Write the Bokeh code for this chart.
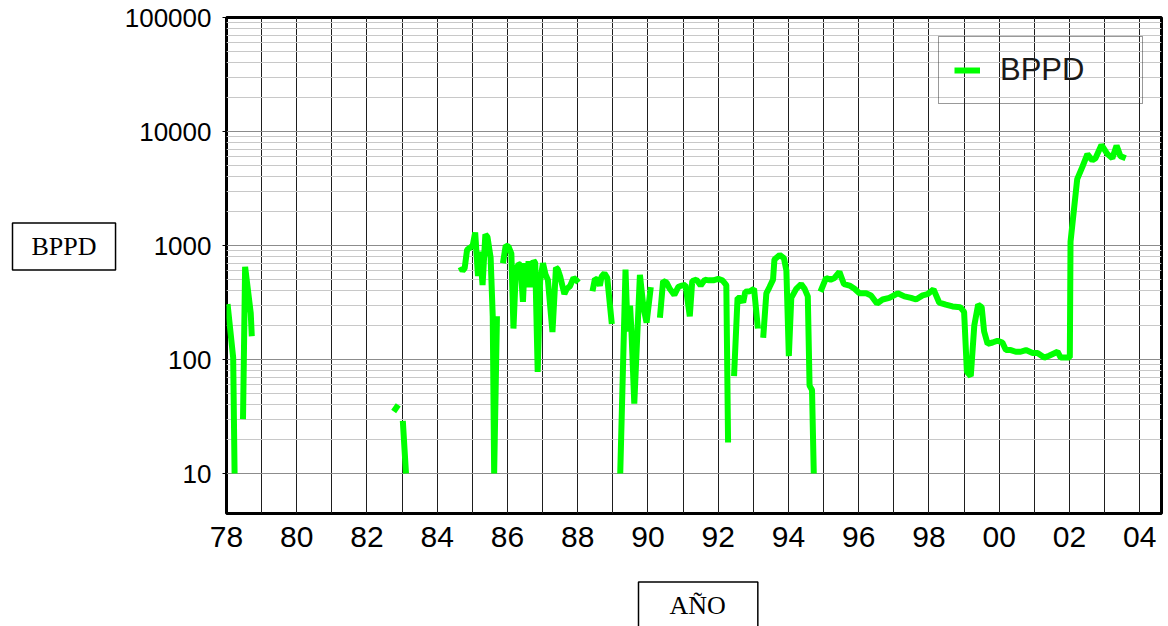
from bokeh.plotting import figure
from bokeh.layouts import row, column
from bokeh.models import (Range1d, FixedTicker, SingleIntervalTicker,
                          CustomJSTickFormatter, Legend, LegendItem, Label)
from bokeh.embed import file_html
from bokeh.resources import INLINE

nan = float("nan")

# ---- data (year as decimal, BPPD); nan = gap in the record ----
year = [
    1978.03, 1978.19, 1978.23, nan,
    1978.47, 1978.53, 1978.69, 1978.72, nan,
    1982.76, 1982.89, nan,
    1983.02, 1983.11, nan,
    1984.66, 1984.72, 1984.78, 1984.85, 1984.94, 1985.01, 1985.08, 1985.16,
    1985.22, 1985.29, 1985.37, 1985.43, 1985.52, 1985.58, 1985.62, 1985.70, nan,
    1985.87, 1985.95, 1986.03, 1986.11, 1986.17, 1986.24, 1986.32, 1986.37,
    1986.44, 1986.49, 1986.55, 1986.60, 1986.67, 1986.74, 1986.79, 1986.86,
    1986.93, 1987.01, 1987.08, 1987.15, 1987.28, 1987.38, 1987.43, 1987.50,
    1987.62, 1987.69, 1987.78, 1987.88, 1987.95, 1988.02, nan,
    1988.42, 1988.49, 1988.57, 1988.63, 1988.68, 1988.76, 1988.84, 1988.97, nan,
    1989.21, 1989.36, 1989.42, 1989.49, 1989.53, 1989.61, 1989.77, 1989.87,
    1989.96, 1990.08, nan,
    1990.34, 1990.43, 1990.53, 1990.62, 1990.75, 1990.86, 1990.95, 1991.07,
    1991.19, 1991.26, 1991.38, 1991.50, 1991.62, 1991.73, 1991.86, 1992.00,
    1992.12, 1992.23, 1992.28, nan,
    1992.45, 1992.55, 1992.64, 1992.71, 1992.77, 1992.90, 1993.02, 1993.13, nan,
    1993.28, 1993.37, 1993.46, 1993.56, 1993.60, 1993.75, 1993.87, 1993.94,
    1994.01, 1994.08, 1994.22, 1994.36, 1994.46, 1994.55, 1994.60, 1994.67,
    1994.72, nan,
    1994.91, 1995.07, 1995.20, 1995.31, 1995.45, 1995.58, 1995.74, 1995.88,
    1996.02, 1996.21, 1996.35, 1996.52, 1996.68, 1996.87, 1997.11, 1997.30,
    1997.49, 1997.63, 1997.82, 1997.96, 1998.13, 1998.29, 1998.48, 1998.67,
    1998.89, 1999.00, 1999.08, 1999.19, 1999.29, 1999.40, 1999.50, 1999.57,
    1999.67, 1999.81, 1999.95, 2000.09, 2000.19, 2000.33, 2000.47, 2000.61,
    2000.76, 2000.95, 2001.09, 2001.28, 2001.42, 2001.66, 2001.75, 2002.01,
    2002.03, 2002.22, 2002.37, 2002.51, 2002.65, 2002.74, 2002.91, 2003.08,
    2003.22, 2003.34, 2003.45, 2003.60,
]
bppd = [
    306, 104, 10, nan,
    30, 650, 255, 160, nan,
    35, 40, nan,
    29, 10, nan,
    650, 600, 630, 920, 960, 1000, 1300, 540,
    880, 450, 1250, 1190, 780, 240, 10, 240, nan,
    700, 1000, 980, 850, 187, 625, 685, 680,
    320, 700, 430, 730, 430, 740, 700, 78,
    490, 700, 560, 500, 174, 640, 620, 535,
    375, 417, 440, 520, 500, 473, nan,
    397, 510, 500, 445, 535, 570, 520, 205, nan,
    10, 614, 176, 297, 176, 41, 552, 288,
    211, 432, nan,
    232, 488, 473, 417, 369, 432, 445, 450,
    239, 488, 502, 445, 502, 495, 495, 509,
    495, 450, 18.7, nan,
    71.5, 347, 347, 316, 393, 397, 417, 187, nan,
    155, 381, 432, 502, 753, 826, 776, 606,
    107, 347, 417, 458, 417, 358, 59, 54,
    10, nan,
    393, 519, 502, 519, 587, 458, 445, 417,
    381, 381, 365, 310, 336, 347, 381, 358,
    347, 336, 365, 374, 412, 316, 303, 292,
    288, 262, 78, 71.5, 199, 303, 288, 176,
    137, 141, 146, 141, 121, 121, 117, 117,
    121, 114, 114, 104, 108, 117, 104, 104,
    1080, 3820, 4920, 6340, 5580, 5830, 7620, 6340,
    5830, 7520, 6080, 5830,
]
y_ticks = [10, 100, 1000, 10000, 100000]
y_minor = [m * 10 ** e for e in range(1, 5) for m in range(2, 10)]
series_name = "BPPD"
y_title = "BPPD"
x_title = "AÑO"

SANS = "Liberation Sans"
SERIF = "Liberation Serif"

LEFT_W = 121
MAIN_W = 1043
MAIN_H = 573
BOTTOM_H = 53

# ---------------- main chart ----------------
p = figure(width=MAIN_W, height=MAIN_H,
           x_range=Range1d(1978, 2004.62), y_range=Range1d(4.46, 100000),
           y_axis_type="log", output_backend="svg", toolbar_location=None,
           min_border_left=103, min_border_right=3, min_border_top=17,
           min_border_bottom=60,
           background_fill_color="white", border_fill_color="white")

r = p.line(year, bppd, line_color="#00ff00", line_width=6)

p.xgrid.ticker = SingleIntervalTicker(interval=1, num_minor_ticks=0)
p.xgrid.grid_line_color = "#1e1e1e"
p.xgrid.grid_line_width = 1
p.yaxis.ticker = FixedTicker(ticks=y_ticks, minor_ticks=y_minor)
p.ygrid.grid_line_color = "#8c8c8c"
p.ygrid.minor_grid_line_color = "#c8c8c8"
p.ygrid.grid_line_width = 1
p.ygrid.minor_grid_line_width = 1

p.outline_line_color = "black"
p.outline_line_width = 3

p.xaxis.ticker = SingleIntervalTicker(interval=2, num_minor_ticks=0)
p.xaxis.formatter = CustomJSTickFormatter(
    code="const y = Math.round(tick) % 100; return (y < 10 ? '0' : '') + y;")
p.xaxis.axis_line_color = None
p.xaxis.major_tick_out = 0
p.xaxis.major_tick_in = 0
p.xaxis.minor_tick_out = 0
p.xaxis.minor_tick_in = 0
p.xaxis.major_label_text_font = SANS
p.xaxis.major_label_text_font_size = "30px"
p.xaxis.major_label_text_color = "black"
p.xaxis.major_label_standoff = 13

p.yaxis.formatter = CustomJSTickFormatter(code="return tick.toFixed(0);")
p.yaxis.axis_line_color = None
p.yaxis.major_tick_out = 4
p.yaxis.major_tick_in = 0
p.yaxis.minor_tick_out = 0
p.yaxis.minor_tick_in = 0
p.yaxis.major_tick_line_color = "black"
p.yaxis.major_label_text_font = SANS
p.yaxis.major_label_text_font_size = "26px"
p.yaxis.major_label_text_color = "black"
p.yaxis.major_label_standoff = 11

legend = Legend(items=[LegendItem(label=series_name, renderers=[r])],
                location=(712, 409))
legend.padding = 15
legend.margin = 0
legend.glyph_width = 26
legend.label_standoff = 20
legend.label_width = 127
legend.border_line_color = "#333333"
legend.border_line_width = 1
legend.background_fill_alpha = 0
legend.label_text_font = SANS
legend.label_text_font_size = "31px"
legend.label_text_color = "#1a1a1a"
p.add_layout(legend)


def blank(width, height):
    f = figure(width=width, height=height, x_range=Range1d(0, 1),
               y_range=Range1d(0, 1), output_backend="svg",
               toolbar_location=None, min_border=0,
               x_axis_location=None, y_axis_location=None,
               background_fill_color="white", border_fill_color="white")
    f.outline_line_color = None
    f.xgrid.visible = False
    f.ygrid.visible = False
    return f


# ---------------- boxed y title (left strip) ----------------
left = blank(LEFT_W, MAIN_H + BOTTOM_H)
left.add_layout(Label(x=12, y=380, x_units="screen", y_units="screen",
                      text=y_title, text_font=SERIF, text_font_size="26px",
                      text_color="black", text_align="left",
                      text_baseline="middle",
                      border_line_color="black", border_line_width=1.5,
                      background_fill_color="white",
                      padding=dict(left=19, right=19, top=9, bottom=9)))

# ---------------- boxed x title (bottom strip, frame aligned with chart) ----
bottom = blank(MAIN_W, BOTTOM_H)
bottom.add_layout(Label(x=412, y=21, x_units="screen", y_units="screen",
                        text=x_title, text_font=SERIF, text_font_size="26px",
                        text_color="black", text_align="left",
                        text_baseline="middle",
                        border_line_color="black", border_line_width=1.5,
                        background_fill_color="white",
                        padding=dict(left=31, right=32, top=9, bottom=9)))

layout = row(left, column(p, bottom))

open("out.html", "w").write(file_html(layout, INLINE))
